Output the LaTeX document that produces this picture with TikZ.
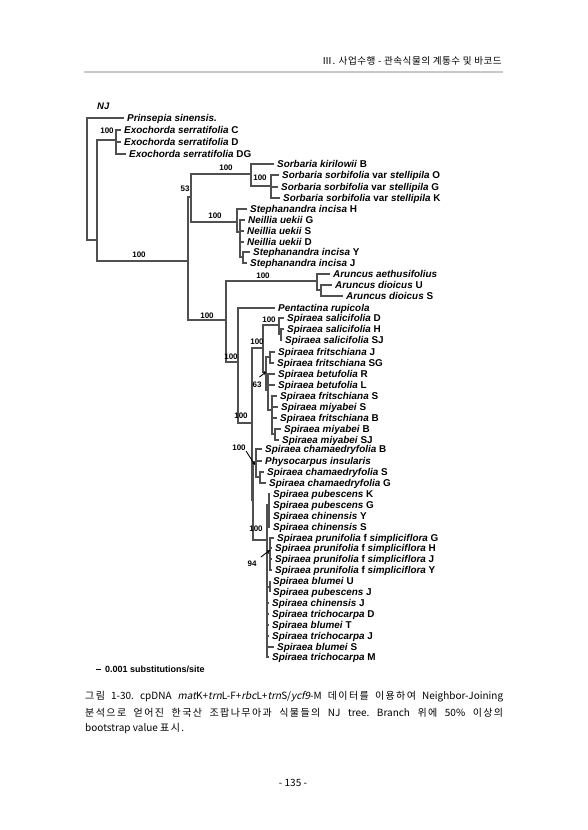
\documentclass[tikz,border=0pt]{standalone}
\usepackage{fontspec}
\setmainfont{Liberation Sans}
\newfontfamily\krfont[AutoFakeSlant=0.2]{Noto Sans CJK KR}
\newfontfamily\krsp[LetterSpace=14]{Noto Sans CJK KR}
\newfontfamily\krhd[LetterSpace=5]{Noto Sans CJK KR}
\usetikzlibrary{arrows.meta}
\definecolor{brgray}{RGB}{80,80,80}
\definecolor{bargray}{RGB}{200,200,200}
\newcommand{\leafname}[2]{\textit{#1} #2}
\newcommand{\ko}[1]{{\krsp #1}}
\tikzset{
  leaf/.style={anchor=west, inner sep=0pt, text height=7.2pt, text depth=0pt, font=\fontsize{9.9}{11}\selectfont\bfseries},
  bs/.style={inner sep=0pt, font=\fontsize{8}{9}\selectfont\bfseries},
  br/.style={draw=brgray, line width=1.1pt},
  ptr/.style={draw=black, line width=0.9pt, -{Stealth[length=3.2pt,width=3.2pt]}},
  kr/.style={inner sep=0pt, font=\krfont\fontsize{10}{12}\selectfont\frenchspacing},
}
\begin{document}
\begin{tikzpicture}[x=1pt,y=-1pt]
\fill[white] (0,0) rectangle (587,830);
\useasboundingbox (0,0) rectangle (587,830);
% header
\node[inner sep=0pt, anchor=east, font=\krhd\fontsize{9.6}{12}\selectfont] (hdr) at (502,61) {Ⅲ. 사업수행 - 관속식물의 계통수 및 바코드};
\fill[bargray] (84,70.5) rectangle (503,73.2);
% title
\node[inner sep=0pt, anchor=west, font=\fontsize{9.5}{11}\selectfont\bfseries\itshape] (nj) at (97,106) {NJ};
% leaves
\node[leaf] (lPrin) at (127,118) {\textit{Prinsepia sinensis.}};
\node[leaf] (lExC) at (124,130) {\leafname{Exochorda serratifolia}{C}};
\node[leaf] (lExD) at (124,142) {\leafname{Exochorda serratifolia}{D}};
\node[leaf] (lExDG) at (129,154) {\leafname{Exochorda serratifolia}{DG}};
\node[leaf] (lSkB) at (277,164) {\leafname{Sorbaria kirilowii}{B}};
\node[leaf] (lSsO) at (282,175) {\textit{Sorbaria sorbifolia} var \textit{stellipila} O};
\node[leaf] (lSsG) at (281,187) {\textit{Sorbaria sorbifolia} var \textit{stellipila} G};
\node[leaf] (lSsK) at (283,198) {\textit{Sorbaria sorbifolia} var \textit{stellipila} K};
\node[leaf] (lStH) at (250,209) {\leafname{Stephanandra incisa}{H}};
\node[leaf] (lNuG) at (248,220) {\leafname{Neillia uekii}{G}};
\node[leaf] (lNuS) at (247,231) {\leafname{Neillia uekii}{S}};
\node[leaf] (lNuD) at (247,242) {\leafname{Neillia uekii}{D}};
\node[leaf] (lStY) at (253,252) {\leafname{Stephanandra incisa}{Y}};
\node[leaf] (lStJ) at (250,263) {\leafname{Stephanandra incisa}{J}};
\node[leaf] (lAa) at (333,274) {\textit{Aruncus aethusifolius}};
\node[leaf] (lAdU) at (335,285) {\leafname{Aruncus dioicus}{U}};
\node[leaf] (lAdS) at (346,296) {\leafname{Aruncus dioicus}{S}};
\node[leaf] (lPr) at (278,308) {\textit{Pentactina rupicola}};
\node[leaf] (lSaD) at (287,318) {\leafname{Spiraea salicifolia}{D}};
\node[leaf] (lSaH) at (287,329) {\leafname{Spiraea salicifolia}{H}};
\node[leaf] (lSaSJ) at (285,340) {\leafname{Spiraea salicifolia}{SJ}};
\node[leaf] (lFrJ) at (278,352) {\leafname{Spiraea fritschiana}{J}};
\node[leaf] (lFrSG) at (277,363) {\leafname{Spiraea fritschiana}{SG}};
\node[leaf] (lBeR) at (278,374) {\leafname{Spiraea betufolia}{R}};
\node[leaf] (lBeL) at (278,385) {\leafname{Spiraea betufolia}{L}};
\node[leaf] (lFrS) at (280,396) {\leafname{Spiraea fritschiana}{S}};
\node[leaf] (lMiS) at (281,407) {\leafname{Spiraea miyabei}{S}};
\node[leaf] (lFrB) at (280,418) {\leafname{Spiraea fritschiana}{B}};
\node[leaf] (lMiB) at (284,429) {\leafname{Spiraea miyabei}{B}};
\node[leaf] (lMiSJ) at (282,440) {\leafname{Spiraea miyabei}{SJ}};
\node[leaf] (lChB) at (265,449) {\leafname{Spiraea chamaedryfolia}{B}};
\node[leaf] (lPhy) at (265,461) {\textit{Physocarpus insularis}};
\node[leaf] (lChS) at (267,472) {\leafname{Spiraea chamaedryfolia}{S}};
\node[leaf] (lChG) at (269,483) {\leafname{Spiraea chamaedryfolia}{G}};
\node[leaf] (lPuK) at (273,494) {\leafname{Spiraea pubescens}{K}};
\node[leaf] (lPuG) at (273,505) {\leafname{Spiraea pubescens}{G}};
\node[leaf] (lCnY) at (273,516) {\leafname{Spiraea chinensis}{Y}};
\node[leaf] (lCnS) at (273,527) {\leafname{Spiraea chinensis}{S}};
\node[leaf] (lPfG) at (277,538) {\textit{Spiraea prunifolia} f \textit{simpliciflora} G};
\node[leaf] (lPfH) at (275,548) {\textit{Spiraea prunifolia} f \textit{simpliciflora} H};
\node[leaf] (lPfJ) at (275,559) {\textit{Spiraea prunifolia} f \textit{simpliciflora} J};
\node[leaf] (lPfY) at (275,570) {\textit{Spiraea prunifolia} f \textit{simpliciflora} Y};
\node[leaf] (lBlU) at (273,581) {\leafname{Spiraea blumei}{U}};
\node[leaf] (lPuJ) at (273,592) {\leafname{Spiraea pubescens}{J}};
\node[leaf] (lCnJ) at (272,603) {\leafname{Spiraea chinensis}{J}};
\node[leaf] (lTrD) at (272,614) {\leafname{Spiraea trichocarpa}{D}};
\node[leaf] (lBlT) at (272,625) {\leafname{Spiraea blumei}{T}};
\node[leaf] (lTrJ) at (272,636) {\leafname{Spiraea trichocarpa}{J}};
\node[leaf] (lBlS) at (277,647) {\leafname{Spiraea blumei}{S}};
\node[leaf] (lTrM) at (272,657) {\leafname{Spiraea trichocarpa}{M}};
% internal nodes
\coordinate (R) at (87,180);
\coordinate (Q) at (97,240);
\coordinate (X) at (116,140);
\coordinate (A) at (188,261);
\coordinate (F) at (191,197);
\coordinate (SB) at (251,174);
\coordinate (SS) at (271,186);
\coordinate (NN) at (237,222);
\coordinate (NU) at (240,232);
\coordinate (NY) at (243,257);
\coordinate (B) at (226,320);
\coordinate (AR) at (317,281);
\coordinate (AD) at (321,290);
\coordinate (C) at (238,362);
\coordinate (E) at (252,423);
\coordinate (S1) at (263,348);
\coordinate (SAL) at (279,325);
\coordinate (SAL2) at (281,334);
\coordinate (N63) at (266,372);
\coordinate (FR) at (270,357);
\coordinate (BT) at (268,390);
\coordinate (MY) at (272,410);
\coordinate (MB) at (275,434);
\coordinate (D) at (253,500);
\coordinate (CH) at (256,462);
\coordinate (CH2) at (260,477);
\coordinate (P) at (267,540);
\coordinate (PC) at (269,505);
\coordinate (PR) at (270,553);
\coordinate (BU) at (270,587);
% internal edges
\foreach \p/\c in {R/Q, Q/X, Q/A, A/F, A/B, F/SB, F/NN, SB/SS, NN/NU, NU/NY,
  B/AR, AR/AD, B/C, C/E, E/S1, E/D, S1/SAL, SAL/SAL2, S1/N63, N63/FR, N63/BT,
  BT/MY, MY/MB, D/CH, CH/CH2, D/P, P/PC, P/PR, P/BU}
  \draw[br] (\p) |- (\c);
% leaf edges
\foreach \p/\c in {R/lPrin, X/lExC, X/lExD, X/lExDG, SB/lSkB, SS/lSsO, SS/lSsG, SS/lSsK,
  NN/lStH, NU/lNuG, NU/lNuS, NU/lNuD, NY/lStY, NY/lStJ, AR/lAa, AD/lAdU, AD/lAdS,
  C/lPr, SAL/lSaD, SAL2/lSaH, SAL2/lSaSJ, FR/lFrJ, FR/lFrSG, BT/lBeR, BT/lBeL,
  MY/lFrS, MY/lMiS, MY/lFrB, MB/lMiB, MB/lMiSJ, CH/lChB, CH/lPhy, CH2/lChS, CH2/lChG,
  PC/lPuK, PC/lPuG, PC/lCnY, PC/lCnS, PR/lPfG, PR/lPfH, PR/lPfJ, PR/lPfY,
  BU/lBlU, BU/lPuJ, P/lCnJ, P/lTrD, P/lBlT, P/lTrJ, P/lBlS, P/lTrM}
  \draw[br] (\p) |- ([xshift=-3pt]\c.west);
% bootstrap values
\node[bs] (b1) at (107,131) {100};
\node[bs] (b2) at (139,255) {100};
\node[bs] (b3) at (185,189) {53};
\node[bs] (b4) at (226,168) {100};
\node[bs] (b5) at (260,178) {100};
\node[bs] (b6) at (215,216) {100};
\node[bs] (b7) at (263,276) {100};
\node[bs] (b8) at (207,316) {100};
\node[bs] (b9) at (269,320) {100};
\node[bs] (b10) at (257,342) {100};
\node[bs] (b11) at (231,357) {100};
\node[bs] (b12) at (257,385) {63};
\node[bs] (b13) at (241,416) {100};
\node[bs] (b14) at (239,448) {100};
\node[bs] (b15) at (256,529) {100};
\node[bs] (b16) at (252,564) {94};
\coordinate (a12) at (259.5,377);
\coordinate (a14) at (246,451);
\coordinate (a16) at (261,557);
\draw[ptr] (a12) -- (N63);
\draw[ptr] (a14) -- ([xshift=-1pt,yshift=-3pt]CH);
\draw[ptr] (a16) -- ([yshift=3pt]PR);
% scale bar
\coordinate (sb1) at (96,669);
\coordinate (sb2) at (100.5,669);
\draw[black, line width=1pt] (sb1) -- (sb2);
\node[inner sep=0pt, anchor=west, font=\fontsize{9}{10}\selectfont\bfseries] (sbt) at (105,669) {0.001 substitutions/site};
% caption
\node[kr, anchor=west] (cap1) at (85,697) {\makebox[418pt][s]{\ko{그림} 1-30. cpDNA \textit{mat}K+\textit{trn}L-F+\textit{rbc}L+\textit{trn}S/\textit{ycf9}-M \ko{데이터를} \ko{이용하여} Neighbor-Joining}};
\node[kr, anchor=west] (cap2) at (85,713) {\makebox[418pt][s]{\ko{분석으로} \ko{얻어진} \ko{한국산} \ko{조팝나무아과} \ko{식물들의} NJ tree. Branch \ko{위에} 50\% \ko{이상의}}};
\node[kr, anchor=west] (cap3) at (85,729) {bootstrap value \ko{표시.}};
% page number
\node[kr] (pg) at (293,783) {- 135 -};
\end{tikzpicture}
\end{document}
